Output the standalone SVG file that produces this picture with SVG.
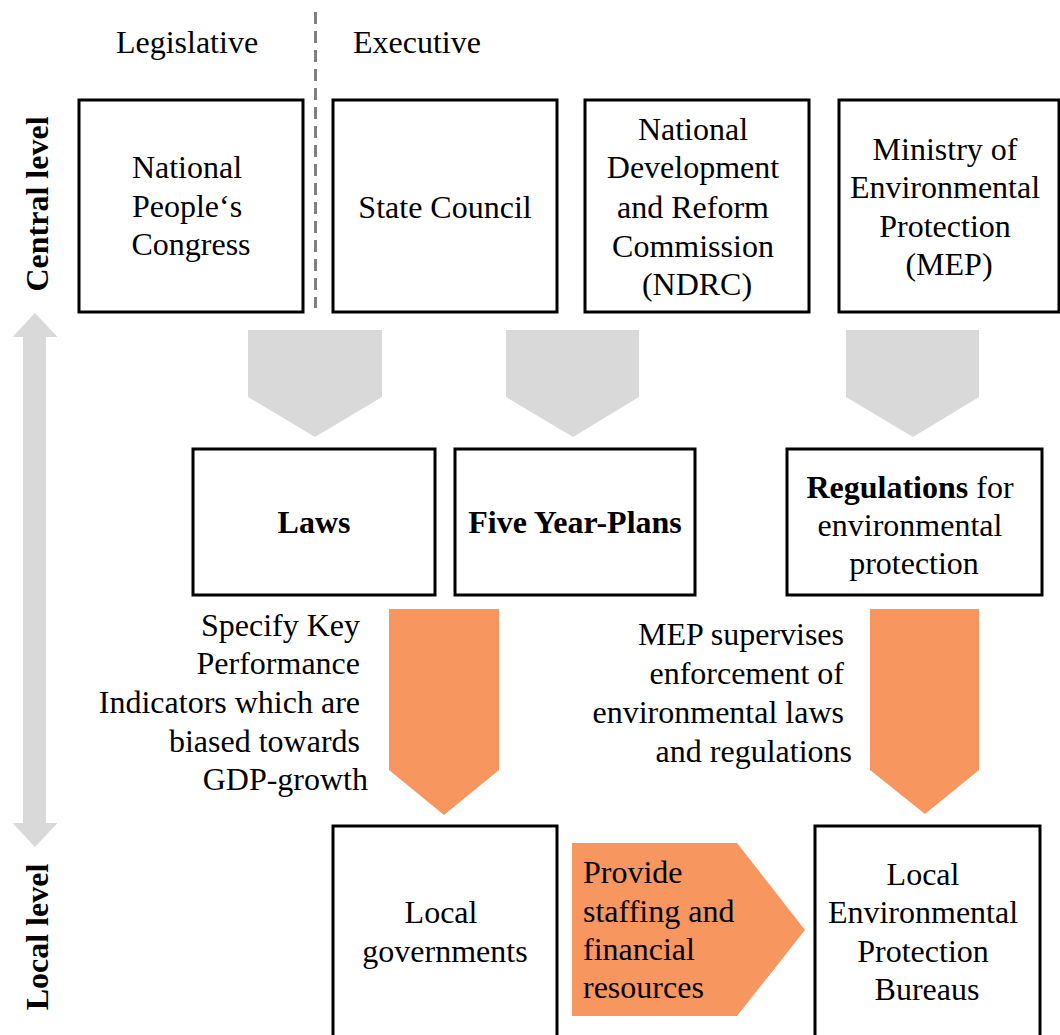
<svg xmlns="http://www.w3.org/2000/svg" width="1060" height="1035" viewBox="0 0 1060 1035">
  <style>
    .box { fill: #ffffff; stroke: #000000; stroke-width: 3; }
    .t { font-family: "Liberation Serif", "Times New Roman", serif; font-size: 32px; fill: #000000; }
    .c { text-anchor: middle; }
    .r { text-anchor: end; }
    .b { font-weight: bold; }
    .gray { fill: #d9d9d9; }
    .orange { fill: #f8965f; }
    .divider { stroke: #808080; stroke-width: 3; stroke-dasharray: 12 7; fill: none; }
  </style>

  <rect x="0" y="0" width="1060" height="1035" fill="#ffffff"/>

  <!-- column headings and the legislative / executive divider -->
  <g id="headings">
    <text class="t c" x="187" y="53">Legislative</text>
    <text class="t" x="353" y="53">Executive</text>
    <line class="divider" x1="315.5" y1="12" x2="315.5" y2="308"/>
  </g>

  <!-- level axis on the left -->
  <g id="levels">
    <polygon class="gray" points="35,313 57.5,337 46,337 46,823 57.5,823 35,847 12.5,823 23,823 23,337 12.5,337"/>
    <text class="t b c" transform="translate(48,204) rotate(-90)">Central level</text>
    <text class="t b c" transform="translate(48,937) rotate(-90)">Local level</text>
  </g>

  <!-- connectors -->
  <g id="connectors">
    <polygon class="gray" points="248,330 382,330 382,397 315,437 248,397"/>
    <polygon class="gray" points="506,330 639,330 639,397 573,437 506,397"/>
    <polygon class="gray" points="846,330 979,330 979,397 913,437 846,397"/>
    <polygon class="orange" points="389,609 499,609 499,770 444,815 389,770"/>
    <polygon class="orange" points="870,609 979,609 979,770 925,814 870,770"/>
    <polygon class="orange" points="572,843 737,843 805,930 737,1016 572,1016"/>
  </g>

  <!-- connector labels -->
  <g id="labels">
    <text class="t r">
      <tspan x="368" y="636">Specify Key</tspan>
      <tspan x="368" y="674">Performance</tspan>
      <tspan x="368" y="713">Indicators which are</tspan>
      <tspan x="368" y="752">biased towards</tspan>
      <tspan x="368" y="790">GDP-growth</tspan>
    </text>
    <text class="t r">
      <tspan x="852" y="645">MEP supervises</tspan>
      <tspan x="852" y="684">enforcement of</tspan>
      <tspan x="852" y="723">environmental laws</tspan>
      <tspan x="852" y="762">and regulations</tspan>
    </text>
    <text class="t">
      <tspan x="583" y="883">Provide</tspan>
      <tspan x="583" y="922">staffing and</tspan>
      <tspan x="583" y="960">financial</tspan>
      <tspan x="583" y="998">resources</tspan>
    </text>
  </g>

  <!-- central level bodies -->
  <g id="npc">
    <rect class="box" x="79" y="100" width="224" height="212"/>
    <text class="t c">
      <tspan x="191" y="178">National</tspan>
      <tspan x="191" y="217">People‘s</tspan>
      <tspan x="191" y="255">Congress</tspan>
    </text>
  </g>
  <g id="state-council">
    <rect class="box" x="333" y="100" width="224" height="212"/>
    <text class="t c" x="445" y="218">State Council</text>
  </g>
  <g id="ndrc">
    <rect class="box" x="585" y="100" width="224" height="212"/>
    <text class="t c">
      <tspan x="697" y="140">National</tspan>
      <tspan x="697" y="178">Development</tspan>
      <tspan x="697" y="218">and Reform</tspan>
      <tspan x="697" y="257">Commission</tspan>
      <tspan x="697" y="295">(NDRC)</tspan>
    </text>
  </g>
  <g id="mep">
    <rect class="box" x="839" y="100" width="220" height="212"/>
    <text class="t c">
      <tspan x="949" y="160">Ministry of</tspan>
      <tspan x="949" y="198">Environmental</tspan>
      <tspan x="949" y="237">Protection</tspan>
      <tspan x="949" y="275">(MEP)</tspan>
    </text>
  </g>

  <!-- policy instruments -->
  <g id="laws">
    <rect class="box" x="193" y="449" width="242" height="146"/>
    <text class="t b c" x="314" y="533">Laws</text>
  </g>
  <g id="five-year-plans">
    <rect class="box" x="455" y="449" width="240" height="146"/>
    <text class="t b c" x="575" y="533">Five Year-Plans</text>
  </g>
  <g id="regulations">
    <rect class="box" x="787" y="449" width="255" height="146"/>
    <text class="t c">
      <tspan x="914" y="498"><tspan class="b">Regulations</tspan> for</tspan>
      <tspan x="914" y="536">environmental</tspan>
      <tspan x="914" y="574">protection</tspan>
    </text>
  </g>

  <!-- local level bodies -->
  <g id="local-governments">
    <rect class="box" x="333" y="826" width="224" height="220"/>
    <text class="t c">
      <tspan x="445" y="923">Local</tspan>
      <tspan x="445" y="962">governments</tspan>
    </text>
  </g>
  <g id="lepb">
    <rect class="box" x="815" y="826" width="225" height="220"/>
    <text class="t c">
      <tspan x="927" y="885">Local</tspan>
      <tspan x="927" y="923">Environmental</tspan>
      <tspan x="927" y="962">Protection</tspan>
      <tspan x="927" y="1000">Bureaus</tspan>
    </text>
  </g>
</svg>
